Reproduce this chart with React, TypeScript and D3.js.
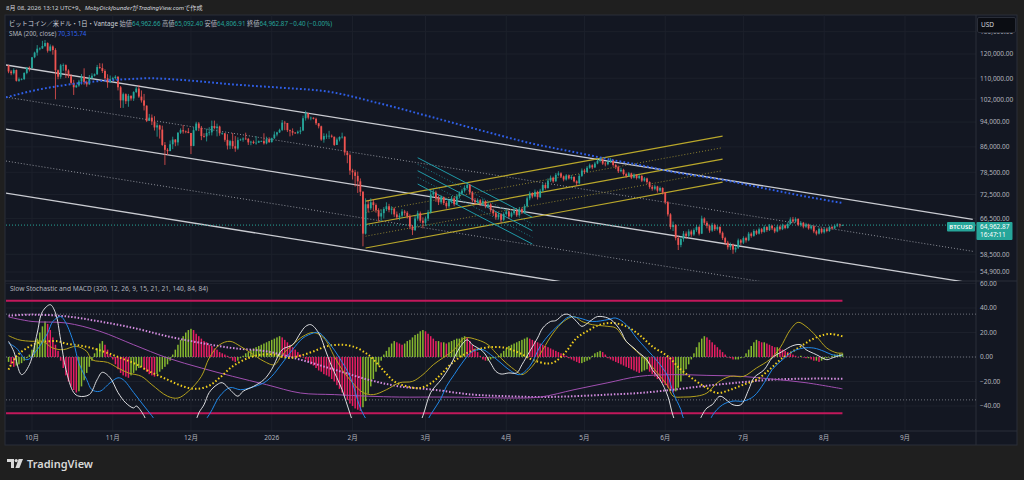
import React from "react";
import * as d3 from "d3";

// ---------------- DATA ----------------
const startDate = "2025-09-22";
const firstOpen = 115.2; // thousands USD

const closes = [
  112.7,112.0,113.3,109.0,109.6,109.7,112.1,114.3,114.1,
  118.6,120.6,122.3,122.4,123.5,124.8,121.4,123.3,121.7,113.2,110.6,115.2,115.3,113.1,110.8,108.2,106.5,107.2,108.7,110.6,108.5,107.6,110.1,111.0,111.6,114.5,114.1,112.9,110.0,108.3,109.6,
  110.1,110.6,106.5,101.6,103.9,101.3,103.3,102.3,104.7,106.0,103.0,101.6,99.7,94.4,95.5,94.2,92.2,92.9,91.5,86.6,85.1,84.7,86.8,88.3,87.4,90.5,91.3,90.9,90.8,90.4,
  86.3,91.3,93.5,92.1,89.4,89.3,90.4,90.6,92.7,92.0,92.5,90.3,90.3,88.2,86.4,87.8,86.2,85.5,88.1,88.3,88.6,88.5,87.4,87.6,87.2,87.3,87.8,87.8,87.1,88.4,87.5,
  88.7,89.9,90.6,91.4,93.8,93.7,91.3,91.0,90.5,90.4,90.8,91.2,95.3,97.0,95.5,95.5,95.1,93.6,92.6,88.3,89.4,89.5,89.5,89.2,86.6,88.3,89.1,89.2,84.3,83.5,79.0,
  78.5,77.5,76.0,73.2,63.0,70.0,69.0,70.5,69.8,68.5,67.0,67.8,68.8,69.5,68.6,68.9,67.5,66.8,67.2,68.2,67.9,67.0,64.6,63.8,66.5,67.8,66.0,65.5,
  66.5,68.0,72.5,73.0,71.5,70.5,71.8,70.3,69.5,70.8,71.5,70.0,72.0,72.8,73.5,74.2,75.0,73.0,71.0,70.5,71.0,70.2,70.8,69.5,70.0,68.5,67.8,66.8,67.5,66.2,67.6,
  68.2,67.0,67.8,68.5,67.3,68.8,68.0,69.5,71.5,72.8,72.0,73.2,71.8,73.5,75.0,74.2,76.2,77.0,76.0,77.8,78.2,77.3,76.5,77.6,76.8,77.2,76.0,75.5,77.5,79.0,
  78.6,79.8,80.5,79.9,81.0,81.8,82.2,81.0,80.8,81.5,82.0,80.6,80.0,78.8,79.2,78.0,77.5,78.2,77.0,77.8,76.9,77.5,76.2,76.8,75.8,74.5,74.0,74.6,73.5,74.2,73.0,
  70.5,67.5,64.5,65.0,62.0,60.5,61.8,63.0,62.5,63.5,62.8,63.8,64.5,63.0,66.5,65.5,64.8,63.7,65.0,64.0,64.5,63.2,62.0,61.0,60.0,60.5,59.5,59.9,61.5,61.0,
  62.0,61.5,63.0,62.5,63.6,63.0,64.0,63.4,64.5,63.8,64.8,64.2,63.5,64.6,64.0,64.9,64.3,65.2,66.3,65.8,66.4,65.0,65.5,64.6,65.1,64.2,64.7,63.5,63.0,64.1,63.3,
  64.0,63.6,64.5,64.2,64.8,65.1,64.96266,64.96287,
];
const highs = [
  115.4,113.3,114.0,113.5,110.3,110.0,112.4,114.5,114.8,
  118.7,121.0,123.9,122.9,125.8,126.2,125.1,124.2,123.8,122.5,113.5,115.8,116.0,115.6,113.6,111.6,109.4,107.5,109.4,111.7,114.0,109.1,111.3,112.0,111.9,115.4,116.1,116.0,113.6,111.6,111.1,
  110.6,111.2,110.8,107.0,104.5,104.2,104.0,103.4,105.0,106.6,107.4,105.3,104.0,99.8,96.8,96.6,96.0,93.8,93.1,92.8,87.5,85.6,88.0,89.2,88.4,90.6,91.9,93.0,91.2,92.0,
  90.4,92.3,94.1,94.0,92.7,90.3,91.8,92.3,94.5,94.5,93.5,92.8,90.6,90.4,90.0,88.2,90.4,89.4,89.0,88.6,89.0,90.5,88.8,87.9,88.0,89.4,88.0,88.0,90.3,89.2,89.0,
  88.9,90.9,90.8,91.8,94.7,94.4,93.7,91.5,91.9,90.7,91.2,92.4,96.2,97.9,97.1,95.9,95.6,95.5,93.6,92.8,90.3,90.2,91.1,89.9,89.2,88.9,89.3,90.5,89.3,84.8,84.0,
  79.5,79.2,78.7,76.8,73.4,71.5,70.9,71.5,71.2,70.2,69.0,68.7,69.3,70.5,70.1,69.5,69.2,68.2,67.8,68.8,68.6,68.3,67.5,65.0,67.2,68.4,68.2,66.8,
  67.0,68.6,73.6,74.0,73.5,72.2,72.3,72.0,70.8,71.3,72.1,71.9,72.6,73.3,74.0,74.9,75.8,75.3,73.4,71.6,71.5,71.3,71.4,71.0,70.6,70.3,68.9,68.1,67.9,67.8,68.0,
  68.8,68.5,68.2,69.0,68.8,69.3,69.2,70.0,72.0,73.3,73.1,73.8,73.5,74.0,75.5,75.4,76.8,77.6,77.3,78.3,78.8,78.5,77.6,78.0,77.9,77.7,77.4,76.3,78.0,79.6,
  79.5,80.3,81.0,80.8,81.5,82.3,82.8,82.4,81.5,82.0,82.6,82.2,81.0,80.4,79.8,79.5,78.4,78.6,78.4,78.2,78.0,77.9,77.7,77.2,77.0,76.0,75.0,75.1,74.8,74.6,74.4,
  73.2,70.8,67.8,65.8,65.2,62.5,62.3,63.6,63.5,64.0,63.9,64.2,65.0,64.8,67.2,66.8,65.9,65.1,65.5,65.3,64.9,64.7,63.5,62.3,61.4,61.0,60.8,60.3,61.9,61.8,
  62.4,62.3,63.4,63.3,64.0,63.9,64.4,64.3,64.9,64.7,65.2,65.0,64.5,65.0,64.9,65.3,65.1,65.6,66.8,66.9,66.8,66.6,65.9,65.7,65.5,65.3,65.0,64.9,63.8,64.4,64.3,
  64.3,64.3,64.8,64.8,65.1,65.4,65.3,65.0924,
];
const lows = [
  112.0,111.2,111.5,108.7,108.6,109.2,109.3,111.6,112.7,
  113.9,118.2,119.3,121.6,122.2,123.0,120.6,121.1,119.7,102.0,109.6,109.8,113.0,110.1,110.1,107.5,103.6,106.3,106.7,107.5,107.5,106.7,107.5,109.7,110.7,111.3,113.8,112.1,109.3,106.3,108.7,
  109.4,109.5,105.3,98.9,98.9,100.3,99.3,101.5,101.4,104.3,102.5,100.8,98.0,94.0,94.6,93.0,91.2,89.2,88.6,86.3,80.6,83.5,84.7,85.3,86.2,86.4,90.1,90.2,90.3,90.3,
  83.8,86.2,91.0,91.0,88.1,88.9,87.7,89.6,89.6,91.6,89.3,89.5,89.8,87.6,85.2,85.3,85.4,84.5,85.1,87.9,87.6,88.2,86.6,86.5,86.9,86.7,87.2,87.5,86.7,86.8,87.2,
  87.3,88.5,89.3,90.4,91.0,91.3,90.7,89.3,89.6,90.1,90.0,90.0,91.0,94.5,94.9,94.6,94.9,93.0,91.9,87.9,87.3,88.5,88.5,88.9,86.3,86.6,87.7,88.6,83.4,81.1,77.8,
  76.5,74.6,72.9,72.1,60.2,62.8,68.0,68.6,68.3,67.9,65.8,65.9,66.5,68.3,68.0,67.5,66.9,66.3,66.1,66.7,67.2,66.5,64.0,62.7,63.6,66.0,65.5,64.2,
  64.8,65.9,67.7,71.8,70.6,69.8,70.0,69.8,68.9,69.1,70.2,69.5,69.8,71.5,72.3,73.0,73.8,72.5,70.5,69.9,70.1,69.6,69.9,69.0,69.2,68.0,67.1,66.2,66.3,65.5,65.9,
  67.2,66.4,66.7,67.5,66.9,67.0,67.6,67.8,69.2,71.0,71.5,71.8,71.2,71.6,73.2,73.8,74.0,75.8,75.6,75.9,77.4,76.9,76.0,76.2,76.5,76.4,75.7,74.8,75.2,77.2,
  78.0,78.4,79.5,79.4,79.7,80.8,81.3,80.6,80.2,80.5,81.2,80.1,79.4,78.3,78.5,77.6,77.0,77.2,76.6,76.8,76.5,76.6,75.8,75.9,75.3,74.0,73.5,73.6,73.0,73.2,72.5,
  70.0,67.0,64.0,63.6,61.5,59.4,60.0,61.2,61.8,62.1,62.3,62.5,63.4,62.6,62.9,65.0,64.2,63.2,63.4,63.6,63.7,62.8,61.6,60.5,59.5,59.4,58.6,58.9,59.6,60.5,
  60.7,61.0,61.3,62.1,62.3,62.7,62.8,63.0,63.2,63.4,63.6,63.8,63.1,63.3,63.7,63.8,64.0,64.1,65.0,65.4,65.5,64.7,64.6,64.2,64.3,63.9,63.9,63.1,62.6,62.8,63.0,
  63.0,63.3,63.4,63.9,64.0,64.5,64.4,64.8069,
];

// SMA(200): [date, thousands]
const sma200 = [
  ["2025-09-21",102.7],["2025-10-01",105.1],["2025-10-14",107.4],["2025-10-27",108.9],["2025-11-08",109.7],
  ["2025-11-15",110.0],["2025-11-28",109.3],["2025-12-17",107.6],["2026-01-05",106.3],["2026-01-23",104.8],
  ["2026-02-11",100.6],["2026-03-03",95.8],["2026-03-22",91.3],["2026-04-10",87.2],["2026-04-29",84.1],
  ["2026-05-12",82.0],["2026-05-22",80.6],["2026-06-04",78.6],["2026-06-23",76.4],["2026-07-12",73.7],
  ["2026-07-28",71.6],["2026-08-08",70.316],
];

// drawn trend lines: [date1, price1, date2, price2, dotted]
const downChannel = [
  ["2025-09-21",115354,"2026-09-27",66317,false],
  ["2025-09-21",102834,"2026-09-27",59130,true],
  ["2025-09-21",91687,"2026-09-27",52720,false],
  ["2025-09-21",81742,"2026-09-27",46990,true],
  ["2025-09-21",72880,"2026-09-27",41880,false],
];
const upChannel = [
  ["2026-02-06",70813,"2026-06-23",89362,false],
  ["2026-02-06",67909,"2026-06-23",85753,true],
  ["2026-02-06",65096,"2026-06-23",82297,false],
  ["2026-02-06",62419,"2026-06-23",78974,true],
  ["2026-02-06",59832,"2026-06-23",75777,false],
];
const tealChannel = [
  ["2026-02-26",82716,"2026-04-11",66807,false],
  ["2026-02-26",80780,"2026-04-11",65230,true],
  ["2026-02-26",78950,"2026-04-11",63660,false],
  ["2026-02-26",77100,"2026-04-11",62170,true],
  ["2026-02-26",75270,"2026-04-11",60690,false],
];

const priceTicks = [130000,120000,110000,102000,94000,86000,78500,72500,66500,58500,54900];
const oscTicks = [60,40,20,0,-20,-40];
const oscLevels = [35,0,-35];
const bandLevels = [46,-46];
const monthTicks = ["2025-10-01","2025-11-01","2025-12-01","2026-01-01","2026-02-01","2026-03-01","2026-04-01","2026-05-01","2026-06-01","2026-07-01","2026-08-01","2026-09-01"];
const monthLabels = ["10月","11月","12月","2026","2月","3月","4月","5月","6月","7月","8月","9月"];

// oscillator series: [day index from startDate, value]
const stochFast = [[0,12.8],[2,4.6],[5,-14.4],[8,-6.3],[11,19.6],[13,37],[16,42.7],[18,36],[20,14],[22,-10],[25,-29],[27,-32],[31,-30.7],[34,-18.5],[36,-12.5],[39,-17],[42,-29],[45,-37.5],[48,-41.6],[49,-40],[52,-48],[55,-62],[63,-75],[70,-62],[73,-45.7],[75,-39],[77,-29],[80,-22.6],[82,-21],[85,-26.7],[88,-32],[90,-28],[94,-24],[98,-18.5],[101,-10],[105,6],[109,10],[112,19.6],[114,25],[116,26.4],[119,19.6],[122,3.3],[124,-7.6],[128,-26.7],[131,-46],[134,-62],[146,-80],[156,-62],[159,-48],[162,-29],[166,-18.5],[169,-9],[171,-0.8],[173,7.3],[176,14],[178,10],[182,4.6],[185,-5],[187,-11.7],[189,-13.9],[192,-13],[195,-13],[197,-6.3],[200,4.6],[203,15.5],[205,23.7],[208,29],[210,29.7],[213,34.6],[215,34.6],[218,29],[220,25],[223,29],[226,33],[230,31.8],[232,29],[235,21],[237,12.8],[240,7.3],[242,3.3],[245,-2.2],[247,-10.3],[250,-18.5],[253,-32],[255,-48],[258,-62],[263,-62],[266,-48],[268,-41.6],[270,-39],[273,-32],[276,-36],[278,-39],[281,-39],[284,-26.7],[286,-17],[290,-10.3],[293,-0.8],[297,4.6],[301,9.3],[304,10],[306,6],[310,1.9],[314,-2.2],[316,-0.8],[320,1.9]];
const stochSlow = [[0,11.4],[3,7.3],[7,-2.2],[11,6],[15,19.6],[17,29],[20,33],[22,27.8],[25,11.4],[27,-5],[30,-18.5],[32,-26.7],[35,-28],[39,-21],[42,-17],[44,-18.5],[48,-29],[52,-40],[55,-48],[60,-62],[70,-65],[77,-47],[81,-32],[85,-25],[89,-26.7],[93,-25],[98,-21],[101,-15.8],[105,-5],[109,6],[113,15.5],[117,19.6],[119,20],[123,11.4],[127,-0.8],[131,-15.8],[135,-41.6],[137,-50],[142,-65],[155,-70],[162,-47],[166,-33.5],[168,-24],[171,-14.4],[174,-5],[178,4.6],[182,6],[185,1.9],[189,-5],[192,-10.3],[196,-14.4],[200,-7.6],[204,8.7],[208,19.6],[212,27.8],[215,32.7],[219,31.8],[224,29],[230,30.5],[233,31.8],[237,26.4],[241,15.5],[245,6],[249,-3.5],[253,-15.8],[255,-29],[258,-43],[259,-50],[263,-62],[268,-60],[270,-48],[274,-39],[278,-36],[282,-36],[286,-32],[290,-21],[293,-10.3],[297,-2.2],[301,4.6],[305,7.3],[309,7.3],[313,4.6],[316,1.9],[320,1]];
const stochLong = [[0,17.4],[4,14],[9,12.8],[13,12.8],[17,7.3],[21,6],[26,8.7],[30,4.6],[32,-2.2],[38,-4.4],[42,-9],[46,-13],[51,-15.8],[55,-22.6],[61,-32],[65,-33.5],[69,-28],[74,-15.8],[77,-0.8],[81,10],[85,12.8],[89,8.7],[93,3.3],[98,-3.5],[102,-6.3],[105,1.9],[109,10],[113,16.9],[117,20],[121,15.5],[125,0.5],[128,-10.3],[132,-21],[136,-29],[140,-30.7],[145,-26.7],[150,-21],[155,-19.9],[159,-14.4],[163,-6.3],[171,6],[175,15.5],[180,14],[184,10],[187,3.3],[191,-5],[195,-11.7],[197,-14.4],[201,-7.6],[205,6],[209,19.6],[213,29],[217,33],[220,29],[224,26.4],[230,25],[233,23.7],[237,12.8],[241,4.6],[245,-3.5],[249,-13],[253,-24],[255,-32],[259,-32.7],[264,-32],[268,-29.4],[272,-21],[277,-15.8],[282,-15.8],[287,-9],[292,-2.2],[296,7.3],[300,22.3],[303,28.3],[306,25],[310,16.9],[314,7.3],[318,3.3],[320,3.3]];
const stochLongSignal = [[0,-10.3],[3,0.5],[7,7.3],[11,11.4],[15,12.8],[19,12.8],[22,10.9],[27,9.5],[32,7.3],[38,3.3],[43,-0.8],[48,-4.9],[54,-11.7],[61,-18.5],[67,-24],[72,-26],[77,-23.4],[81,-17],[86,-7.6],[92,-0.8],[97,1.9],[102,1.9],[107,-0.8],[112,1.1],[117,4.6],[122,8.7],[127,10],[132,8.7],[138,1.9],[143,-9],[148,-19.9],[153,-24],[158,-25.3],[163,-20],[166,-14],[171,-3.5],[176,3.3],[181,6.8],[186,8.2],[191,7.3],[196,3.3],[201,-2.2],[207,-5.4],[210,-3.5],[214,4.6],[218,15.5],[222,21],[227,26.4],[232,27.8],[237,25],[242,18.2],[247,8.7],[253,0.5],[258,-10.3],[263,-18.5],[268,-25.3],[272,-29.4],[277,-26.7],[282,-22.6],[287,-18.5],[292,-10.3],[297,-0.8],[303,7.3],[308,14],[313,18.2],[316,18.8],[320,16.9]];
const macdLine = [[0,32.7],[9,29],[22,27.8],[35,21],[48,10],[61,-0.8],[74,-9],[86,-15.8],[99,-22.6],[112,-29.4],[125,-30.7],[138,-32],[150,-32.7],[166,-32.7],[178,-32.9],[191,-33.5],[204,-32.7],[217,-26.7],[230,-21],[242,-15.8],[255,-14.4],[268,-15],[281,-15.8],[293,-18],[306,-21],[320,-26]];
const macdSignal = [[0,33.7],[9,34.6],[22,33.2],[35,29],[48,23.7],[61,16.9],[74,11.4],[86,7.3],[99,4.6],[112,-2.2],[125,-10.3],[138,-18.5],[150,-24],[163,-26.7],[178,-30.7],[191,-32],[204,-32.7],[217,-32],[230,-30.7],[242,-29.4],[255,-26.7],[268,-23.4],[281,-20.7],[293,-18.5],[306,-17.7],[320,-17.7]];
const macdHist = [-4,-6,-8,-7,-6,-5,-3,-1,2,6,10,15,20,25,29,27,22,16,10,5,-3,-9,-15,-20,-24,-27,-29,-28,-24,-19,-13,-8,-3,3,7,11,13,10,6,2,-2,-6,-10,-13,-15,-16,-17,-15,-13,-11,-9,-8,-10,-12,-14,-15,-16,-14,-12,-10,-8,-6,-3,2,6,10,14,17,20,22,23,22,19,17,15,13,12,10,9,7,6,4,3,2,1,-1,-3,-4,-3,-1,1,3,4,6,7,8,9,10,11,12,13,14,15,16,17,16,14,12,10,8,6,4,2,0,-2,-4,-6,-7,-9,-11,-12,-14,-15,-16,-18,-20,-23,-26,-29,-32,-35,-38,-40,-42,-43,-44,-41,-36,-30,-24,-18,-12,-7,-3,2,5,8,11,13,12,11,10,11,13,14,16,18,19,21,22,21,19,17,15,13,13,12,12,11,12,13,14,15,15,16,17,16,13,10,7,4,1,-2,-3,-3,-2,-1,0,1,3,5,7,9,10,11,12,13,14,15,16,15,14,13,12,11,10,9,8,7,6,5,4,3,2,1,-1,-2,-3,-4,-5,-5,-4,-3,-2,1,3,4,5,4,2,-1,-2,-3,-4,-5,-6,-7,-8,-9,-10,-11,-12,-13,-12,-11,-10,-12,-14,-16,-18,-19,-21,-23,-25,-27,-29,-28,-25,-20,-15,-10,-6,-2,3,8,12,15,17,16,14,12,10,8,6,4,2,0,-1,-2,-2,-2,-1,0,3,6,9,12,14,13,12,12,11,10,9,8,8,7,6,5,4,3,2,1,0,1,0,-1,-1,-2,-3,-3,-4,-3,-2,-1,0,1,2,2,3,3];

// ---------------- LAYOUT / STYLE ----------------
const FONT = "'Noto Sans', 'Noto Sans CJK JP', sans-serif";
const PL = 6, PR = 976, MT = 15, MB = 281, IB = 431, XB = 445, FR = 1017;
const UP = "#26a69a", DOWN = "#ef5350";
const AXIS_TXT = "#b2b5be";
const GRID = "#1c202b";

const parse = (s: string) => new Date(s + "T00:00:00Z");
const DAY = 86400000;
const t0 = parse(startDate).getTime();
const dateOf = (i: number) => new Date(t0 + i * DAY);

export default function App() {
  React.useEffect(() => {
    document.body.style.margin = "0";
    document.body.style.background = "#1f1f1f";
  }, []);

  const x = d3.scaleUtc().domain([parse("2025-10-01"), parse("2026-09-01")]).range([32, 905]);
  const yP = d3.scaleLog().domain([54900, 120000]).range([272, 54]);
  const yI = d3.scaleLinear().domain([0, 40]).range([357, 308]);

  const candles = closes.map((c, i) => {
    const o = i === 0 ? firstOpen : closes[i - 1];
    return { d: dateOf(i), o: o * 1000, c: c * 1000, h: highs[i] * 1000, l: lows[i] * 1000 };
  });

  const smaLine = d3.line<any>().x((d) => x(parse(d[0]))).y((d) => yP(d[1] * 1000)).curve(d3.curveMonotoneX);
  const oscLine = d3.line<any>().x((d) => x(dateOf(d[0]))).y((d) => yI(d[1])).curve(d3.curveCatmullRom.alpha(0.5));

  const fmt = d3.format(",.2f");
  const fmtOsc = (v: number) => (v < 0 ? "\u2212" + d3.format(".2f")(-v) : d3.format(".2f")(v));
  const lastX = x(dateOf(closes.length - 1));
  const lastPrice = closes[closes.length - 1] * 1000;
  const tagY = yP(lastPrice) - 3;

  const trend = (arr: any[], color: string, w: number, dotColor: string, key: string) =>
    arr.map((l, i) => (
      <line key={key + i} x1={x(parse(l[0]))} y1={yP(l[1])} x2={x(parse(l[2]))} y2={yP(l[3])}
        stroke={l[4] ? dotColor : color} strokeWidth={l[4] ? 1 : w} strokeDasharray={l[4] ? "1 2" : undefined} />
    ));

  return (
    <svg width={1024} height={480} style={{ position: "absolute", left: 0, top: 0, display: "block" }} fontFamily={FONT}>
      <defs>
        <clipPath id="mainClip"><rect x={PL} y={MT} width={PR - PL} height={MB - MT} /></clipPath>
        <clipPath id="oscClip"><rect x={PL} y={MB + 1} width={PR - PL} height={418 - MB - 1} /></clipPath>
        <clipPath id="indClip"><rect x={PL} y={MB + 1} width={PR - PL} height={IB - MB - 1} /></clipPath>
      </defs>
      <rect x={0} y={0} width={1024} height={480} fill="#1f1f1f" />
      {/* top caption */}
      <text x={6} y={9.6} fontSize={6.1} fill="#d1d4dc" style={{ whiteSpace: "pre" }}>
        8月 08, 2026 13:12 UTC+9、<tspan fontStyle="italic">MobyDickfounder</tspan>が<tspan fontStyle="italic">TradingView.com</tspan>で作成
      </text>
      {/* chart frame */}
      <rect x={5} y={MT} width={FR - 5} height={XB - MT} fill="#131722" stroke="#2a2e39" strokeWidth={1} />

      {/* grid */}
      {monthTicks.map((m) => (
        <line key={"vg" + m} x1={x(parse(m))} x2={x(parse(m))} y1={MT} y2={IB} stroke={GRID} strokeWidth={1} />
      ))}
      {priceTicks.map((t) => (
        <line key={"hg" + t} x1={PL} x2={PR} y1={yP(t)} y2={yP(t)} stroke={GRID} strokeWidth={1} />
      ))}
      {oscTicks.map((t) => (
        <line key={"og" + t} x1={PL} x2={PR} y1={yI(t)} y2={yI(t)} stroke={GRID} strokeWidth={1} />
      ))}

      {/* separators */}
      <line x1={5} x2={FR} y1={MB} y2={MB} stroke="#2a2e39" strokeWidth={1} />
      <line x1={5} x2={FR} y1={IB} y2={IB} stroke="#2a2e39" strokeWidth={1} />
      <line x1={PR} x2={PR} y1={MT} y2={XB} stroke="#2a2e39" strokeWidth={1} />

      {/* ---------- main pane ---------- */}
      <g clipPath="url(#mainClip)">
        {trend(downChannel, "#c9cbd1", 1.3, "#8c8f98", "dc")}
        {trend(upChannel, "#b9a72b", 1.2, "#8d8230", "uc")}
        {trend(tealChannel, "#1e9aa8", 1, "#1b7f8b", "tc")}
        <line x1={PL} x2={PR} y1={yP(lastPrice)} y2={yP(lastPrice)} stroke={UP} strokeWidth={1} strokeDasharray="1 2" />
        {candles.map((k, i) => {
          const cx = x(k.d);
          const up = k.c >= k.o;
          const col = up ? UP : DOWN;
          const yTop = yP(Math.max(k.o, k.c));
          const yBot = yP(Math.min(k.o, k.c));
          return (
            <g key={"c" + i}>
              <line x1={cx} x2={cx} y1={yP(k.h)} y2={yP(k.l)} stroke={col} strokeWidth={0.8} />
              <rect x={cx - 0.9} y={yTop} width={1.8} height={Math.max(0.7, yBot - yTop)} fill={col} />
            </g>
          );
        })}
        <path d={smaLine(sma200 as any) || ""} fill="none" stroke="#2f5fe8" strokeWidth={2} strokeDasharray="1.8 2.2" />
      </g>

      {/* header texts */}
      <text x={9} y={26.3} fontSize={6.25} fill="#d1d4dc" style={{ whiteSpace: "pre" }}>
        ビットコイン／米ドル・1日・Vantage
        <tspan fill={AXIS_TXT}> 始値</tspan><tspan fill={UP}>64,962.66</tspan>
        <tspan fill={AXIS_TXT}> 高値</tspan><tspan fill={UP}>65,092.40</tspan>
        <tspan fill={AXIS_TXT}> 安値</tspan><tspan fill={UP}>64,806.91</tspan>
        <tspan fill={AXIS_TXT}> 終値</tspan><tspan fill={UP}>64,962.87 −0.40 (−0.00%)</tspan>
      </text>
      <text x={9} y={35.5} fontSize={6.25} fill={AXIS_TXT} style={{ whiteSpace: "pre" }}>
        SMA (200, close) <tspan fill="#2f63f0">70,315.74</tspan>
      </text>

      {/* price axis */}
      {priceTicks.map((t) => (
        <text key={"pt" + t} x={980} y={yP(t)} dy="0.35em" fontSize={6.5} fill={AXIS_TXT}>{fmt(t)}</text>
      ))}
      <rect x={977.5} y={17.5} width={38} height={15} rx={1.5} fill="#0b0d13" stroke="#2a2e39" />
      <text x={981} y={27} fontSize={6.5} fill="#d1d4dc">USD</text>
      {/* last price tags */}
      <rect x={947} y={tagY} width={28} height={9.5} fill={UP} rx={1} />
      <text x={961} y={tagY + 4.8} dy="0.35em" fontSize={6} fill="#ffffff" textAnchor="middle" fontWeight={600}>BTCUSD</text>
      <rect x={976.5} y={tagY} width={36} height={18} fill={UP} rx={1} />
      <text x={980} y={tagY + 4.6} dy="0.35em" fontSize={6.5} fill="#ffffff">{fmt(lastPrice)}</text>
      <text x={980} y={tagY + 12.8} dy="0.35em" fontSize={6.5} fill="#ffffff">16:47:11</text>

      {/* ---------- indicator pane ---------- */}
      <text x={10} y={291} fontSize={6.6} fill={AXIS_TXT}>Slow Stochastic and MACD (320, 12, 26, 9, 15, 21, 21, 140, 84, 84)</text>
      <g clipPath="url(#indClip)">
        {oscLevels.map((v) => (
          <line key={"lv" + v} x1={PL} x2={PR} y1={yI(v)} y2={yI(v)} stroke="#6f727c" strokeWidth={1} strokeDasharray="1 2" />
        ))}
        {bandLevels.map((v) => (
          <line key={"bl" + v} x1={PL} x2={lastX} y1={yI(v)} y2={yI(v)} stroke="#c2185b" strokeWidth={2} />
        ))}
        {macdHist.map((v, i) => {
          const cx = x(dateOf(i));
          const prev = i === 0 ? v : macdHist[i - 1];
          const col = v >= prev ? "#86b82f" : "#e91e63";
          const y0 = yI(0), y1 = yI(v);
          return <rect key={"h" + i} x={cx - 0.75} width={1.5} y={Math.min(y0, y1)} height={Math.max(0.5, Math.abs(y1 - y0))} fill={col} />;
        })}
      </g>
      <g clipPath="url(#oscClip)" fill="none">
        <path d={oscLine(macdSignal as any) || ""} stroke="#d48de0" strokeWidth={2} strokeDasharray="1.5 1.8" />
        <path d={oscLine(macdLine as any) || ""} stroke="#a04fb0" strokeWidth={1} />
        <path d={oscLine(stochLongSignal as any) || ""} stroke="#f2cf1d" strokeWidth={2} strokeDasharray="1.5 2.2" />
        <path d={oscLine(stochLong as any) || ""} stroke="#b4a11d" strokeWidth={1} />
        <path d={oscLine(stochSlow as any) || ""} stroke="#2188e8" strokeWidth={1} />
        <path d={oscLine(stochFast as any) || ""} stroke="#dcdde0" strokeWidth={1} />
      </g>
      {oscTicks.map((t) => (
        <text key={"ot" + t} x={980} y={yI(t)} dy="0.35em" fontSize={6.5} fill={AXIS_TXT}>{fmtOsc(t)}</text>
      ))}

      {/* time axis */}
      {monthTicks.map((m, i) => (
        <text key={"xt" + m} x={x(parse(m))} y={438} dy="0.35em" fontSize={6.5} fill={AXIS_TXT} textAnchor="middle">{monthLabels[i]}</text>
      ))}

      {/* TradingView logo */}
      <g fill="#d9d9d9">
        <path d="M7 459 H14 V468 H11 V462 H7 Z" />
        <circle cx={16.2} cy={460.6} r={1.6} />
        <path d="M18.6 459 H23 L19.4 468 H15.4 Z" />
      </g>
      <text x={27} y={467.5} fontSize={11} fontWeight={600} fill="#d9d9d9" fontFamily="'Noto Sans', sans-serif">TradingView</text>
    </svg>
  );
}
